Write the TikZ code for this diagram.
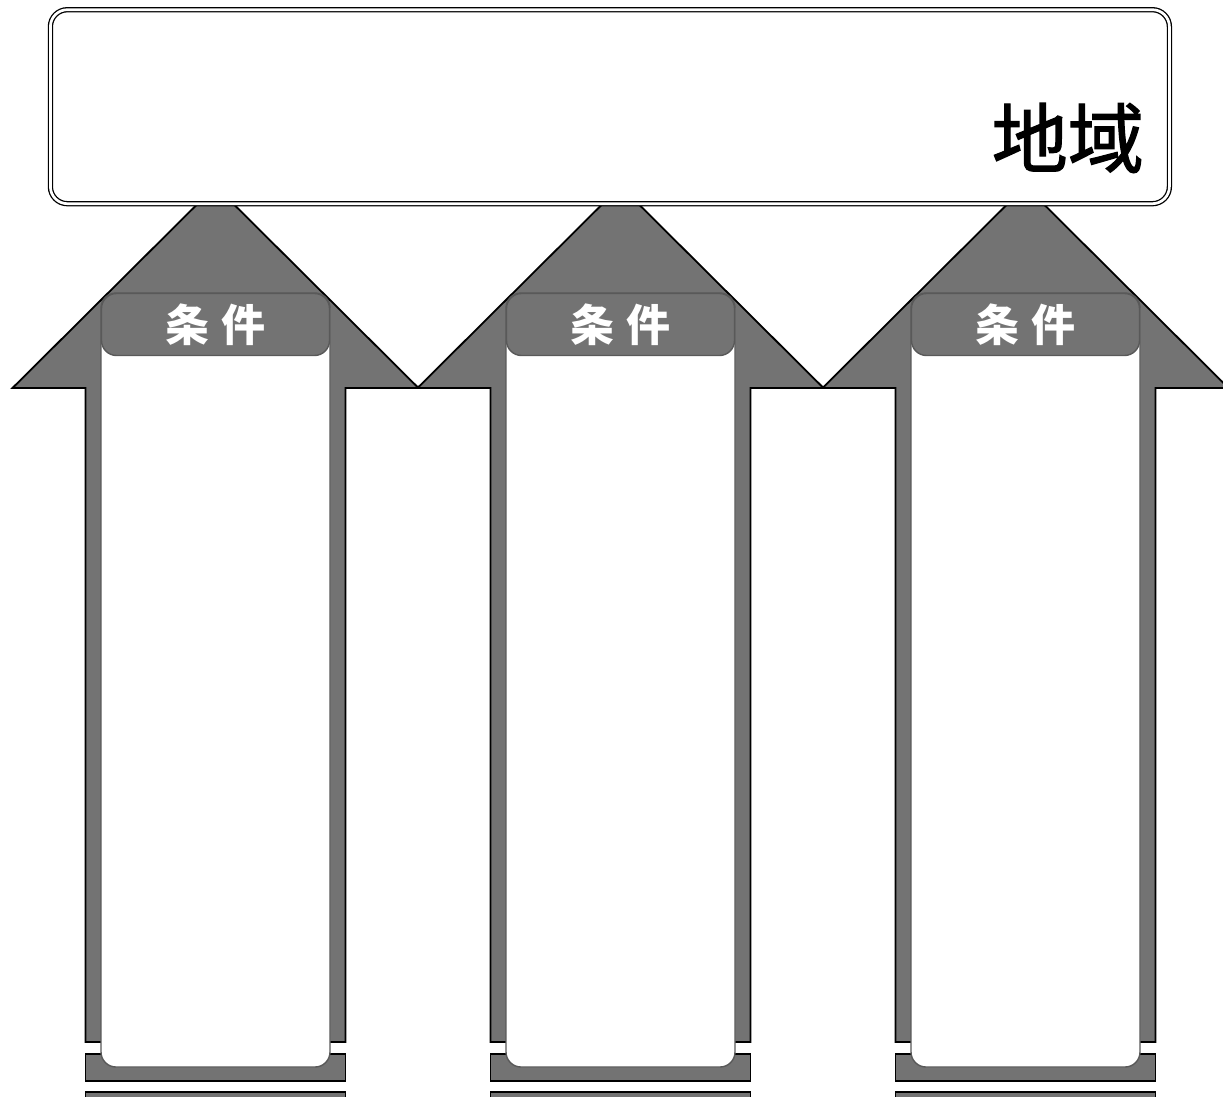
\documentclass[tikz,border=0pt]{standalone}
\usepackage{fontspec}
\newfontfamily\cjk{Noto Sans CJK JP}
\newfontfamily\cjkfake{Noto Sans CJK JP}[FakeBold=1.6]
\definecolor{arrowgray}{HTML}{737373}
\definecolor{edgegray}{HTML}{595959}
\tikzset{
  arrowbody/.style={fill=arrowgray,draw=black,line width=1.8pt,line join=miter},
  innerbox/.style={fill=white,draw=edgegray,line width=1.4pt,rounded corners=15pt},
  labelbox/.style={fill=arrowgray,draw=edgegray,line width=1.4pt,rounded corners=15pt,
    minimum width=228pt,minimum height=62pt,inner sep=0pt,text=white,
    font=\cjk\bfseries\fontsize{44}{44}\selectfont},
  regionbox/.style={draw=black,fill=white,double=white,double distance=2.7pt,line width=1.3pt,
    rounded corners=17pt,minimum width=1119pt,minimum height=194pt,inner sep=0pt},
  regiontext/.style={font=\cjkfake\fontsize{76}{76}\selectfont,inner sep=0pt,anchor=east}
}
\begin{document}
\begin{tikzpicture}[x=1pt,y=-1pt]
\useasboundingbox (0,0) rectangle (1223,1097);
\clip (0,0) rectangle (1223,1097);
\foreach \cx/\n in {215.5/1,620.5/2,1025.5/3}{
  \draw[arrowbody] (\cx-130,1042) -- (\cx-130,388) -- (\cx-203,388) -- (\cx-19,205)
    -- (\cx+19,205) -- (\cx+203,388) -- (\cx+130,388) -- (\cx+130,1042) -- cycle;
  \draw[arrowbody] (\cx-130,1054) rectangle (\cx+130,1081);
  \draw[arrowbody] (\cx-130,1092) rectangle (\cx+130,1115);
  \draw[innerbox] (\cx-114.5,293) rectangle (\cx+114.5,1067);
  \node[labelbox] (cond\n) at (\cx,324.5) {条\hspace{12pt}件};
}
\node[regionbox] (region) at (609.9,106.7) {};
\node[regiontext] (regionlabel) at (1144,138) {地域};
\end{tikzpicture}
\end{document}
